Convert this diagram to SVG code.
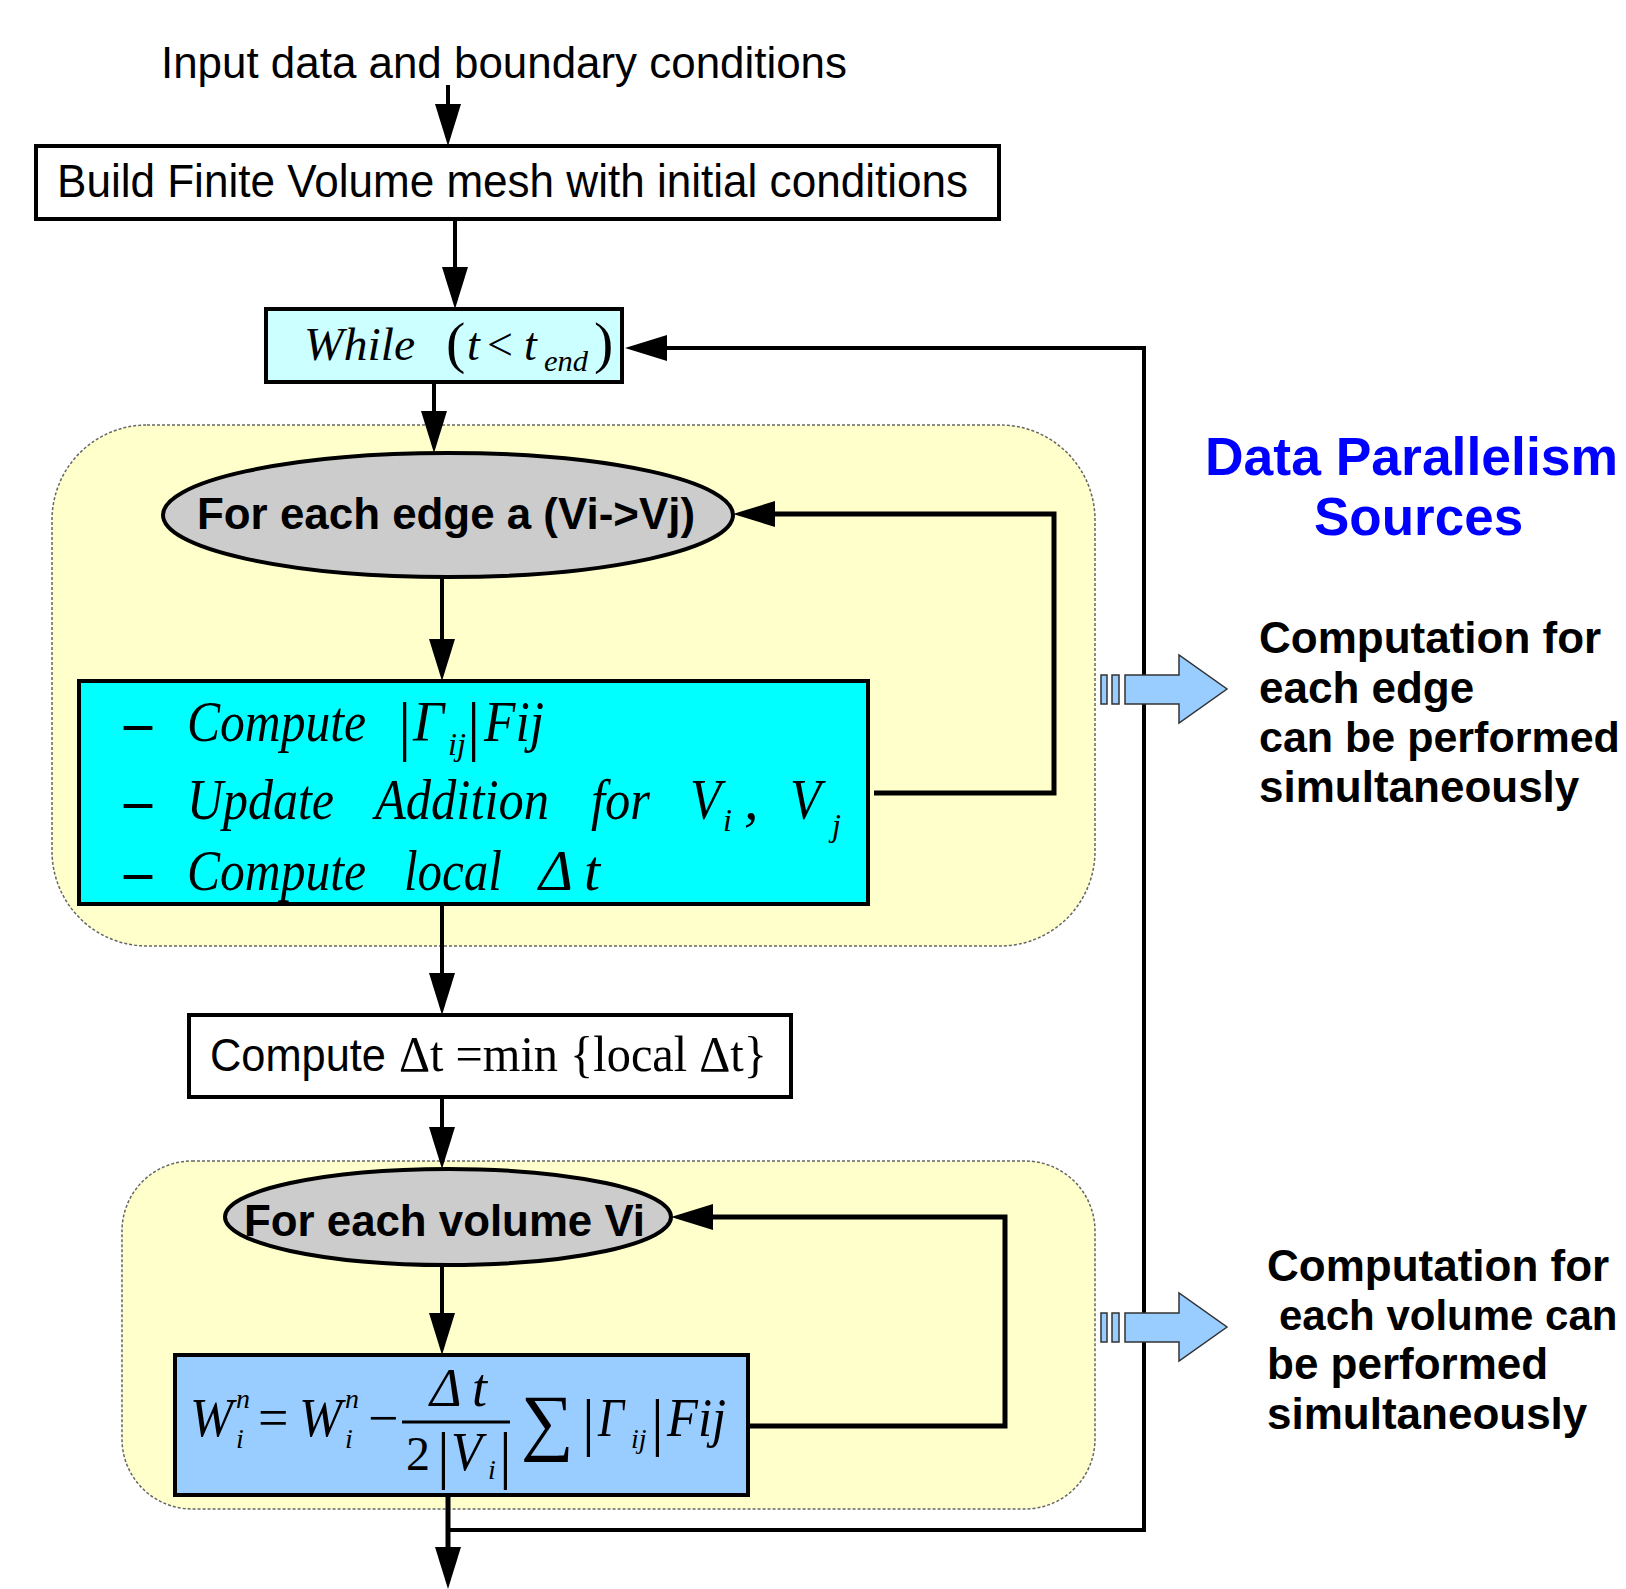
<svg xmlns="http://www.w3.org/2000/svg" width="1626" height="1589" viewBox="0 0 1626 1589">
<defs>
<style>
.sans{font-family:"Liberation Sans",Arial,sans-serif;}
.bold{font-family:"Liberation Sans",Arial,sans-serif;font-weight:bold;}
.mi{font-family:"Liberation Serif","Times New Roman",serif;font-style:italic;}
.mr{font-family:"Liberation Serif","Times New Roman",serif;}
.box{stroke:#000;stroke-width:4;}
.conn{fill:none;stroke:#000;stroke-width:4;}
.loop{fill:none;stroke:#000;stroke-width:5;}
.region{fill:#FFFFCC;stroke:#666;stroke-width:1.5;stroke-dasharray:3 2;}
.barrow{fill:#99CCFF;stroke:#333;stroke-width:1.5;}
</style>
<marker id="ah" markerUnits="userSpaceOnUse" markerWidth="44" markerHeight="26" refX="12" refY="13" orient="auto">
<path d="M0,0 L42,13 L0,26 Z" fill="#000"/>
</marker>
</defs>
<rect width="1626" height="1589" fill="#fff"/>

<g id="regions">
<rect class="region" x="52" y="425" width="1043" height="521" rx="95" ry="95"/>
<rect class="region" x="122" y="1161" width="973" height="348" rx="70" ry="70"/>
</g>

<g id="connectors">
<path class="conn" d="M448,85 V116" marker-end="url(#ah)"/>
<path class="conn" d="M455,219 V279" marker-end="url(#ah)"/>
<path class="conn" d="M434,382 V423" marker-end="url(#ah)"/>
<path class="conn" d="M442,578 V651" marker-end="url(#ah)"/>
<path class="conn" d="M442,904 V985" marker-end="url(#ah)"/>
<path class="conn" d="M442,1097 V1139" marker-end="url(#ah)"/>
<path class="conn" d="M442,1266 V1325" marker-end="url(#ah)"/>
<path class="loop" d="M448,1495 V1559" marker-end="url(#ah)"/>
<path class="conn" d="M448,1530 H1144 V348 H655" marker-end="url(#ah)"/>
<path class="loop" d="M874,793 H1054 V514 H763" marker-end="url(#ah)"/>
<path class="loop" d="M749,1426 H1005 V1217 H701" marker-end="url(#ah)"/>
</g>

<g id="input">
<text class="sans" x="161" y="78" font-size="45" textLength="686" lengthAdjust="spacingAndGlyphs">Input data and boundary conditions</text>
</g>

<g id="build">
<rect class="box" x="36" y="146" width="963" height="73" fill="#fff"/>
<text class="sans" x="57" y="197" font-size="46" textLength="911" lengthAdjust="spacingAndGlyphs">Build Finite Volume mesh with initial conditions</text>
</g>

<g id="while">
<rect class="box" x="266" y="309" width="356" height="73" fill="#CCFFFF"/>
<text class="mi" x="304" y="360" font-size="46" textLength="111" lengthAdjust="spacingAndGlyphs">While</text>
<text class="mr" x="446" y="362" font-size="58">(</text>
<text class="mi" x="467" y="360" font-size="46">t</text>
<text class="mr" x="487" y="360" font-size="46">&lt;</text>
<text class="mi" x="524" y="360" font-size="46">t</text>
<text class="mi" x="544" y="371" font-size="30" textLength="44" lengthAdjust="spacingAndGlyphs">end</text>
<text class="mr" x="594" y="362" font-size="58">)</text>
</g>

<g id="edge-loop">
<ellipse class="box" cx="448" cy="515" rx="285" ry="62" fill="#CCCCCC"/>
<text class="bold" x="197" y="529" font-size="44" textLength="498" lengthAdjust="spacingAndGlyphs">For each edge a (Vi-&gt;Vj)</text>
</g>

<g id="edge-compute">
<rect class="box" x="79" y="681" width="789" height="223" fill="#00FFFF"/>
<text class="mr" x="124" y="741" font-size="56" font-weight="bold">–</text>
<text class="mi" x="187" y="741" font-size="58" textLength="179" lengthAdjust="spacingAndGlyphs">Compute</text>
<text class="mr" x="398" y="748" font-size="66">|</text>
<text class="mi" x="413" y="741" font-size="58" textLength="31" lengthAdjust="spacingAndGlyphs">Γ</text>
<text class="mi" x="448" y="755" font-size="32" textLength="18" lengthAdjust="spacingAndGlyphs">ij</text>
<text class="mr" x="467" y="748" font-size="66">|</text>
<text class="mi" x="484" y="741" font-size="58" textLength="60" lengthAdjust="spacingAndGlyphs">Fij</text>

<text class="mr" x="124" y="819" font-size="56" font-weight="bold">–</text>
<text class="mi" x="187" y="819" font-size="58" textLength="147" lengthAdjust="spacingAndGlyphs">Update</text>
<text class="mi" x="375" y="819" font-size="58" textLength="174" lengthAdjust="spacingAndGlyphs">Addition</text>
<text class="mi" x="591" y="819" font-size="58" textLength="59" lengthAdjust="spacingAndGlyphs">for</text>
<text class="mi" x="690" y="819" font-size="58" textLength="31" lengthAdjust="spacingAndGlyphs">V</text>
<text class="mi" x="723" y="831" font-size="32">i</text>
<text class="mi" x="744" y="819" font-size="58">,</text>
<text class="mi" x="790" y="819" font-size="58" textLength="31" lengthAdjust="spacingAndGlyphs">V</text>
<text class="mi" x="832" y="836" font-size="32">j</text>

<text class="mr" x="124" y="890" font-size="56" font-weight="bold">–</text>
<text class="mi" x="187" y="890" font-size="58" textLength="179" lengthAdjust="spacingAndGlyphs">Compute</text>
<text class="mi" x="404" y="890" font-size="58" textLength="98" lengthAdjust="spacingAndGlyphs">local</text>
<text class="mi" x="539" y="890" font-size="58" textLength="34" lengthAdjust="spacingAndGlyphs">Δ</text>
<text class="mi" x="584" y="890" font-size="58">t</text>
</g>

<g id="min-dt">
<rect class="box" x="189" y="1015" width="602" height="82" fill="#fff"/>
<text class="sans" x="210" y="1071" font-size="46" textLength="176" lengthAdjust="spacingAndGlyphs">Compute</text>
<text class="mr" x="399" y="1071" font-size="50" textLength="368" lengthAdjust="spacingAndGlyphs">Δt =min {local Δt}</text>
</g>

<g id="volume-loop">
<ellipse class="box" cx="448" cy="1217" rx="223" ry="48" fill="#CCCCCC"/>
<text class="bold" x="244" y="1236" font-size="44" textLength="401" lengthAdjust="spacingAndGlyphs">For each volume Vi</text>
</g>

<g id="volume-update">
<rect class="box" x="175" y="1355" width="573" height="140" fill="#99CCFF"/>
<text class="mi" x="190" y="1436" font-size="54" textLength="43" lengthAdjust="spacingAndGlyphs">W</text>
<text class="mi" x="236" y="1408" font-size="28">n</text>
<text class="mi" x="236" y="1448" font-size="28">i</text>
<text class="mr" x="258" y="1436" font-size="54">=</text>
<text class="mi" x="299" y="1436" font-size="54" textLength="43" lengthAdjust="spacingAndGlyphs">W</text>
<text class="mi" x="345" y="1408" font-size="28">n</text>
<text class="mi" x="345" y="1448" font-size="28">i</text>
<text class="mr" x="368" y="1436" font-size="54">−</text>
<text class="mi" x="430" y="1406" font-size="54">Δ</text>
<text class="mi" x="472" y="1406" font-size="54">t</text>
<line x1="402" y1="1422" x2="510" y2="1422" stroke="#000" stroke-width="3"/>
<text class="mr" x="406" y="1470" font-size="48">2</text>
<text class="mr" x="437" y="1476" font-size="64">|</text>
<text class="mi" x="451" y="1470" font-size="54" textLength="31" lengthAdjust="spacingAndGlyphs">V</text>
<text class="mi" x="488" y="1479" font-size="28">i</text>
<text class="mr" x="499" y="1476" font-size="64">|</text>
<text class="mr" x="521" y="1446" font-size="74">∑</text>
<text class="mr" x="582" y="1443" font-size="64">|</text>
<text class="mi" x="598" y="1436" font-size="54" textLength="26" lengthAdjust="spacingAndGlyphs">Γ</text>
<text class="mi" x="631" y="1448" font-size="28">ij</text>
<text class="mr" x="651" y="1443" font-size="64">|</text>
<text class="mi" x="667" y="1436" font-size="54" textLength="59" lengthAdjust="spacingAndGlyphs">Fij</text>
</g>

<g id="parallel-arrow-1">
<rect class="barrow" x="1101" y="675" width="6" height="29"/>
<rect class="barrow" x="1112" y="675" width="7" height="29"/>
<path class="barrow" d="M1125,675 H1179 V655 L1227,689 L1179,723 V704 H1125 Z"/>
</g>
<g id="parallel-arrow-2">
<rect class="barrow" x="1101" y="1313" width="6" height="29"/>
<rect class="barrow" x="1112" y="1313" width="7" height="29"/>
<path class="barrow" d="M1125,1313 H1179 V1293 L1227,1327 L1179,1361 V1342 H1125 Z"/>
</g>

<g id="title">
<text class="bold" x="1205" y="475" font-size="53" fill="#0000FF" textLength="413" lengthAdjust="spacingAndGlyphs">Data Parallelism</text>
<text class="bold" x="1314" y="535" font-size="53" fill="#0000FF">Sources</text>
</g>

<g id="note-edge">
<text class="bold" x="1259" y="653" font-size="44">Computation for</text>
<text class="bold" x="1259" y="703" font-size="44">each edge</text>
<text class="bold" x="1259" y="752" font-size="43">can be performed</text>
<text class="bold" x="1259" y="802" font-size="44">simultaneously</text>
</g>

<g id="note-volume">
<text class="bold" x="1267" y="1281" font-size="44">Computation for</text>
<text class="bold" x="1279" y="1330" font-size="42">each volume can</text>
<text class="bold" x="1267" y="1379" font-size="44">be performed</text>
<text class="bold" x="1267" y="1429" font-size="44">simultaneously</text>
</g>
</svg>
